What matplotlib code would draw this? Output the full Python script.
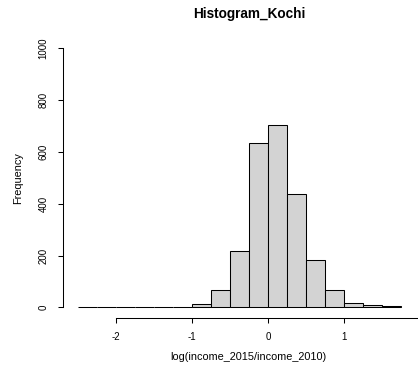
import matplotlib
matplotlib.use("Agg")
import matplotlib.pyplot as plt

# histogram bins (left edges, width 0.25) and counts
bin_left = [-2.5, -2.25, -2.0, -1.75, -1.5, -1.25, -1.0, -0.75, -0.5,
            -0.25, 0.0, 0.25, 0.5, 0.75, 1.0, 1.25, 1.5]
counts = [0, 0, 0, 0, 0, 3, 12, 66, 216, 633, 704, 436, 184, 66, 17, 8, 4]
bin_width = 0.25

x_ticks = [-2, -1, 0, 1, 2, 3]
y_ticks = [0, 200, 400, 600, 800, 1000]

plt.rcParams['font.family'] = ['Liberation Sans', 'DejaVu Sans']
plt.rcParams['axes.unicode_minus'] = False

W, H = 418, 374
fig = plt.figure(figsize=(W / 100, H / 100), dpi=100)

# axes in pixel coordinates (R-style plot region, partly beyond right edge)
left_px, right_px = 63.1, 511.5
top_px, bottom_px = 37.9, 317.7
ax = fig.add_axes([left_px / W, 1 - bottom_px / H,
                   (right_px - left_px) / W, (bottom_px - top_px) / H])

ax.bar(bin_left, counts, width=bin_width, align='edge',
       color='#d3d3d3', edgecolor='black', linewidth=0.75)

ax.set_xlim(-2.7, 3.2)
ax.set_ylim(-40, 1040)

for s in ['top', 'right']:
    ax.spines[s].set_visible(False)
ax.spines['left'].set_bounds(0, 1000)
ax.spines['bottom'].set_bounds(-2, 3)
ax.spines['left'].set_linewidth(0.75)
ax.spines['bottom'].set_linewidth(0.75)

ax.set_xticks(x_ticks)
ax.set_yticks(y_ticks)
ax.set_xticklabels([str(t) for t in x_ticks])
ax.set_yticklabels([str(t) for t in y_ticks], rotation=90, va='center')
ax.tick_params(direction='out', length=3.6, width=0.75, labelsize=7, pad=7)

fig.text(249.5 / W, 1 - 14 / H, 'Histogram_Kochi', ha='center', va='center',
         fontsize=9.8, fontweight='bold')
fig.text(248 / W, 1 - 357 / H, 'log(income_2015/income_2010)', ha='center',
         va='center', fontsize=7.8)
fig.text(18 / W, 1 - 178 / H, 'Frequency', ha='center', va='center',
         rotation=90, fontsize=7.8)

fig.savefig('out.png', dpi=100)
